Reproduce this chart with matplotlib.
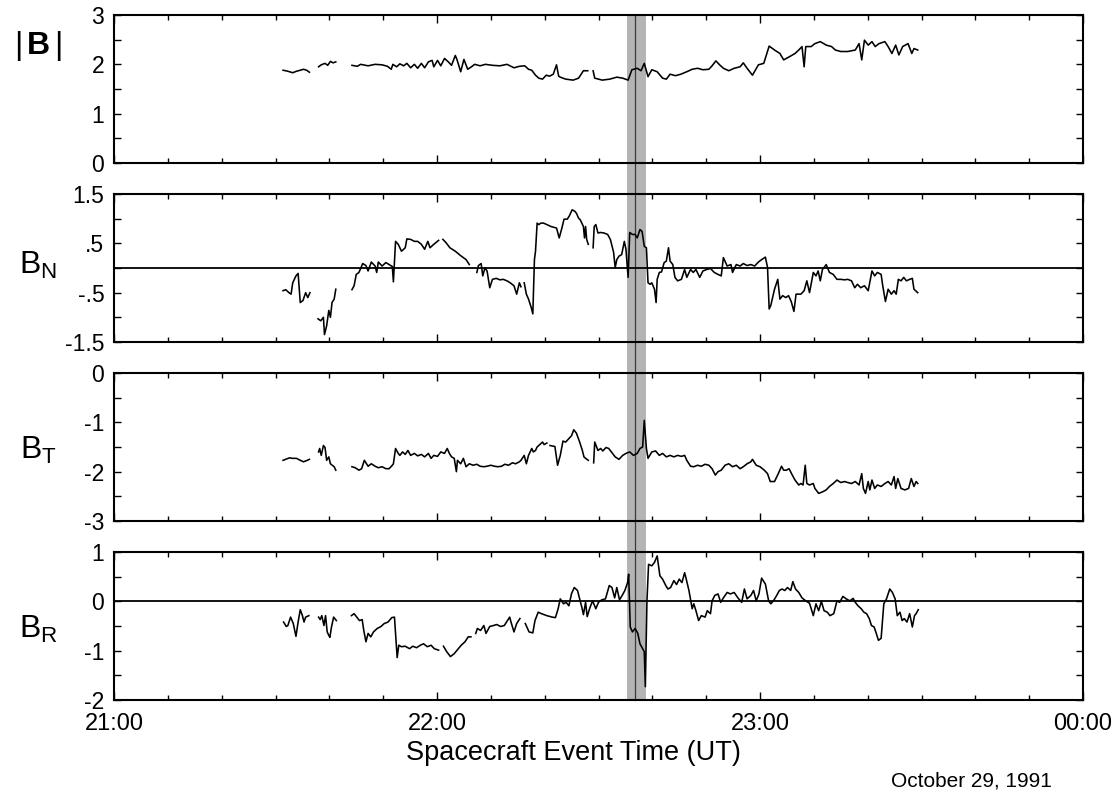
import numpy as np
import matplotlib
matplotlib.use("Agg")
import matplotlib.pyplot as plt
from matplotlib.ticker import MultipleLocator

plt.rcParams['font.family'] = ['Liberation Sans', 'DejaVu Sans']
plt.rcParams['mathtext.fontset'] = 'custom'
plt.rcParams['mathtext.rm'] = 'Liberation Sans'
plt.rcParams['mathtext.bf'] = 'Liberation Sans:bold'
plt.rcParams['mathtext.it'] = 'Liberation Sans:italic'

nan = np.nan

# time in minutes after 21:00 UT, field value; nan rows break the trace at data gaps
B_MAG = [
    (31.4, 1.88), (31.9, 1.87), (32.6, 1.85), (33.2, 1.83), (33.9, 1.86), (34.6, 1.88),
    (35.2, 1.90), (35.8, 1.88), (36.3, 1.84), (37.0, nan),
    (38.0, 1.95), (38.5, 1.99), (39.2, 2.02), (39.7, 1.98), (40.2, 2.06), (40.7, 2.03),
    (41.2, 2.05), (42.5, nan),
    (44.2, 1.98), (45.2, 1.96), (45.8, 2.00), (47.2, 1.97), (48.5, 2.00), (49.8, 1.99),
    (50.8, 1.96), (51.5, 1.90), (51.8, 2.00), (52.5, 1.95), (53.1, 2.01), (53.8, 1.97),
    (54.4, 2.02), (55.1, 1.93), (55.8, 2.00), (56.4, 1.92), (57.1, 2.02), (57.7, 1.93),
    (58.4, 2.05), (59.1, 2.08), (59.4, 1.95), (60.1, 2.08), (60.7, 1.97), (61.4, 2.12),
    (62.1, 2.05), (62.7, 1.98), (63.4, 2.18), (63.7, 2.10), (64.4, 1.85), (65.0, 2.10),
    (65.7, 1.90), (66.4, 1.95), (67.0, 2.00), (68.0, 1.97), (69.0, 2.00), (70.3, 1.98),
    (71.7, 1.97), (73.0, 2.00), (74.3, 1.93), (75.3, 1.96), (76.3, 1.97), (77.0, 1.90),
    (77.6, 1.88), (78.3, 1.78), (78.9, 1.72), (79.6, 1.70), (80.3, 1.78), (80.9, 1.76),
    (81.6, 1.80), (82.2, 1.99), (82.6, 1.76), (82.9, 1.74), (83.9, 1.70), (85.3, 1.68),
    (86.3, 1.72), (87.2, 1.87), (88.0, 1.87), (88.5, nan),
    (89.0, 1.87), (89.3, 1.72), (90.7, 1.68), (92.1, 1.70), (93.4, 1.74), (94.5, 1.72),
    (95.5, 1.68), (96.2, 1.89), (97.2, 1.92), (97.9, 1.87), (98.5, 2.02), (99.2, 1.75),
    (99.9, 1.89), (100.9, 1.85), (101.9, 1.72), (102.6, 1.70), (103.3, 1.80), (104.3, 1.77),
    (105.3, 1.80), (106.4, 1.85), (107.4, 1.90), (108.4, 1.92), (109.4, 1.89), (110.5, 1.90),
    (111.1, 1.97), (111.8, 2.07), (112.5, 1.99), (113.2, 1.92), (114.2, 1.87), (115.2, 1.92),
    (116.3, 1.95), (116.9, 2.03), (117.6, 1.92), (118.6, 1.78), (119.7, 1.99), (120.7, 2.02),
    (121.7, 2.37), (122.7, 2.29), (123.7, 2.22), (124.4, 2.09), (125.4, 2.15), (126.5, 2.22),
    (127.2, 2.29), (127.8, 2.36), (128.2, 1.95), (128.5, 2.36), (129.5, 2.36), (130.2, 2.42),
    (131.2, 2.46), (132.3, 2.39), (133.3, 2.36), (134.0, 2.29), (135.0, 2.26), (136.3, 2.26),
    (137.7, 2.29), (138.4, 2.42), (138.9, 2.09), (139.4, 2.49), (140.1, 2.39), (140.8, 2.46),
    (141.4, 2.36), (142.1, 2.42), (143.2, 2.46), (143.8, 2.36), (144.5, 2.22), (145.2, 2.39),
    (145.8, 2.19), (146.5, 2.36), (147.5, 2.42), (148.2, 2.22), (148.6, 2.32), (149.3, 2.29),
]

B_N = [
    (31.4, -0.46), (31.9, -0.44), (32.5, -0.50), (32.9, -0.53), (33.2, -0.30), (33.8, -0.16),
    (34.2, -0.11), (34.6, -0.70), (35.1, -0.66), (35.6, -0.50), (36.0, -0.60), (36.4, -0.50),
    (37.0, nan),
    (37.9, -1.03), (38.4, -1.07), (38.9, -1.00), (39.1, -1.35), (39.5, -1.17), (39.9, -0.86),
    (40.2, -1.00), (40.5, -0.70), (40.9, -0.63), (41.2, -0.43), (42.5, nan),
    (44.2, -0.44), (44.6, -0.36), (45.0, -0.13), (45.5, -0.09), (46.2, 0.09), (46.8, 0.05),
    (47.2, -0.06), (47.8, 0.12), (48.5, 0.04), (48.8, -0.09), (49.1, 0.12), (49.8, 0.04),
    (50.5, 0.11), (51.1, 0.07), (51.7, 0.03), (51.9, -0.28), (52.3, 0.54), (52.8, 0.48),
    (53.4, 0.34), (54.1, 0.41), (54.4, 0.59), (55.1, 0.58), (55.8, 0.54), (56.4, 0.54),
    (57.1, 0.48), (57.7, 0.38), (58.3, 0.54), (58.7, 0.41), (59.4, 0.48), (60.3, 0.56),
    (60.6, nan),
    (61.1, 0.58), (61.7, 0.51), (62.4, 0.41), (63.4, 0.34), (64.4, 0.25), (65.4, 0.17),
    (66.0, 0.07), (66.5, nan),
    (67.4, -0.09), (67.7, 0.05), (68.2, 0.09), (68.5, -0.16), (68.9, 0.00), (69.3, -0.06),
    (69.8, -0.40), (70.3, -0.23), (71.0, -0.21), (71.7, -0.24), (72.3, -0.23), (73.0, -0.26),
    (73.6, -0.30), (74.3, -0.36), (74.8, -0.53), (75.3, -0.30), (75.6, -0.38), (75.9, nan),
    (76.2, -0.30), (76.6, -0.53), (77.0, -0.63), (77.5, -0.80), (77.8, -0.93), (78.1, 0.17),
    (78.3, 0.34), (78.6, 0.91), (78.9, 0.88), (79.3, 0.91), (79.8, 0.91), (81.2, 0.84),
    (82.2, 0.81), (82.7, 0.61), (83.2, 0.81), (83.6, 0.99), (84.2, 0.99), (84.6, 1.06),
    (85.1, 1.18), (85.6, 1.15), (85.9, 1.11), (86.3, 1.01), (86.6, 0.98), (87.2, 0.84),
    (87.4, 0.61), (87.6, 0.84), (87.8, 0.58), (88.1, 0.48), (88.5, nan),
    (89.0, 0.41), (89.2, 0.84), (89.5, 0.88), (89.9, 0.71), (90.4, 0.72), (91.0, 0.71),
    (91.7, 0.68), (92.2, 0.58), (92.8, 0.32), (93.1, 0.01), (93.4, 0.17), (93.8, 0.24),
    (94.3, 0.27), (94.8, 0.54), (95.1, 0.38), (95.5, -0.19), (95.8, 0.72), (96.3, 0.68),
    (96.8, 0.68), (97.2, 0.61), (97.7, 0.78), (98.1, 0.74), (98.5, 0.44), (98.9, 0.41),
    (99.2, -0.30), (99.6, -0.33), (99.9, -0.30), (100.4, -0.43), (100.7, -0.70), (100.9, -0.23),
    (101.3, -0.09), (101.7, -0.08), (102.2, 0.11), (102.6, 0.14), (103.0, 0.41), (103.3, 0.14),
    (103.8, 0.07), (104.2, -0.19), (104.7, -0.26), (105.4, -0.23), (106.0, -0.03), (106.4, -0.19),
    (107.1, -0.03), (107.6, -0.09), (108.1, -0.03), (108.8, -0.19), (109.4, -0.06), (110.1, -0.03),
    (110.8, -0.01), (111.5, -0.09), (112.2, -0.13), (112.8, -0.16), (113.2, 0.21), (113.9, 0.04),
    (114.6, 0.07), (114.9, -0.09), (115.6, 0.07), (116.3, 0.04), (116.9, 0.09), (117.6, 0.05),
    (118.3, 0.07), (119.0, 0.04), (119.7, 0.12), (120.3, 0.17), (121.0, 0.22), (121.4, 0.01),
    (121.7, -0.83), (122.0, -0.76), (122.7, -0.43), (123.3, -0.23), (123.7, -0.63), (124.2, -0.56),
    (124.8, -0.60), (125.3, -0.56), (125.8, -0.68), (126.3, -0.88), (126.7, -0.53), (127.2, -0.53),
    (127.6, -0.53), (128.2, -0.46), (128.7, -0.26), (129.2, -0.50), (129.9, -0.09), (130.4, -0.16),
    (130.8, -0.06), (131.2, -0.26), (131.6, -0.03), (132.3, 0.07), (132.9, -0.09), (133.6, -0.13),
    (134.3, -0.23), (135.0, -0.23), (135.7, -0.24), (136.3, -0.23), (137.0, -0.26), (137.6, -0.40),
    (138.1, -0.33), (138.7, -0.40), (139.4, -0.36), (140.1, -0.46), (140.8, -0.06), (141.3, -0.16),
    (141.8, -0.09), (142.5, -0.13), (142.8, -0.36), (143.3, -0.68), (143.8, -0.43), (144.4, -0.53),
    (144.9, -0.46), (145.3, -0.53), (145.7, -0.23), (146.2, -0.26), (146.7, -0.19), (147.2, -0.26),
    (147.8, -0.23), (148.3, -0.21), (148.6, -0.43), (149.3, -0.50),
]

B_T = [
    (31.4, -1.77), (31.9, -1.75), (32.6, -1.72), (33.2, -1.73), (33.9, -1.73), (34.6, -1.77),
    (35.2, -1.80), (35.9, -1.77), (36.3, -1.75), (37.0, nan),
    (38.0, -1.60), (38.2, -1.53), (38.5, -1.67), (38.9, -1.47), (39.2, -1.51), (39.5, -1.77),
    (39.9, -1.70), (40.2, -1.84), (40.9, -1.90), (41.2, -1.97), (42.5, nan),
    (44.2, -1.90), (44.8, -1.92), (45.5, -1.97), (46.0, -1.94), (46.5, -1.77), (47.2, -1.89),
    (47.8, -1.84), (48.5, -1.89), (49.1, -1.92), (49.8, -1.90), (50.5, -1.94), (51.1, -1.94),
    (51.7, -1.87), (51.9, -1.84), (52.3, -1.53), (52.8, -1.63), (53.1, -1.67), (53.6, -1.60),
    (54.1, -1.65), (54.6, -1.57), (55.1, -1.67), (55.8, -1.63), (56.4, -1.68), (57.1, -1.65),
    (57.7, -1.70), (58.4, -1.63), (58.9, -1.73), (59.4, -1.67), (60.1, -1.69), (60.7, -1.60),
    (61.4, -1.63), (61.9, -1.53), (62.3, -1.63), (62.7, -1.70), (63.2, -1.73), (63.6, -2.00),
    (63.8, -1.77), (64.4, -1.84), (64.9, -1.73), (65.4, -1.90), (66.0, -1.84), (66.7, -1.87),
    (67.4, -1.85), (68.0, -1.89), (68.7, -1.90), (69.3, -1.89), (70.0, -1.87), (70.7, -1.89),
    (71.3, -1.90), (72.0, -1.89), (72.6, -1.85), (73.3, -1.87), (74.0, -1.82), (74.6, -1.84),
    (75.3, -1.80), (75.6, -1.77), (76.2, -1.67), (76.6, -1.84), (77.0, -1.67), (77.6, -1.53),
    (77.9, -1.60), (78.3, -1.57), (78.6, -1.50), (78.9, -1.47), (79.3, -1.43), (79.6, -1.40),
    (79.9, -1.45), (80.4, -1.42), (80.7, nan),
    (81.0, -1.47), (81.9, -1.49), (82.4, -1.87), (82.9, -1.67), (83.4, -1.38), (83.9, -1.40),
    (84.5, -1.33), (85.0, -1.27), (85.4, -1.15), (85.9, -1.22), (86.5, -1.40), (87.0, -1.57),
    (87.3, -1.70), (87.6, -1.73), (88.1, -1.77), (88.5, nan),
    (89.1, -1.82), (89.3, -1.40), (89.9, -1.57), (90.4, -1.53), (90.8, -1.58), (91.4, -1.51),
    (91.9, -1.53), (92.4, -1.60), (93.1, -1.70), (93.8, -1.75), (94.5, -1.67), (95.1, -1.63),
    (95.8, -1.60), (96.5, -1.67), (97.2, -1.63), (97.7, -1.53), (98.2, -1.50), (98.5, -0.96),
    (98.9, -1.53), (99.2, -1.73), (99.9, -1.60), (100.6, -1.58), (101.3, -1.67), (101.9, -1.63),
    (102.6, -1.70), (103.3, -1.67), (104.0, -1.70), (104.7, -1.67), (105.4, -1.69), (106.0, -1.67),
    (106.4, -1.77), (107.1, -1.89), (107.7, -1.90), (108.4, -1.87), (109.1, -1.89), (109.8, -1.85),
    (110.5, -1.87), (111.1, -1.94), (111.7, -2.07), (112.2, -2.00), (112.8, -1.97), (113.5, -1.87),
    (114.2, -1.84), (114.9, -1.90), (115.6, -1.87), (116.3, -1.94), (116.9, -1.90), (117.6, -1.84),
    (118.3, -1.80), (118.6, -1.75), (119.3, -1.87), (120.0, -1.90), (120.8, -1.97), (121.4, -2.04),
    (121.9, -2.20), (122.7, -2.20), (123.4, -2.04), (124.0, -1.89), (124.4, -1.97), (124.9, -1.97),
    (125.4, -1.94), (126.0, -2.07), (126.5, -2.17), (127.2, -2.27), (127.6, -2.24), (128.0, -2.27),
    (128.4, -1.87), (128.7, -2.24), (129.2, -2.27), (129.9, -2.24), (130.2, -2.34), (130.9, -2.44),
    (131.6, -2.41), (132.3, -2.37), (132.9, -2.30), (133.6, -2.24), (134.3, -2.17), (135.0, -2.22),
    (135.7, -2.20), (136.3, -2.22), (137.0, -2.24), (137.7, -2.20), (138.4, -2.27), (138.9, -2.04),
    (139.2, -2.34), (139.6, -2.44), (140.1, -2.20), (140.4, -2.37), (140.8, -2.17), (141.3, -2.34),
    (141.8, -2.27), (142.5, -2.30), (143.2, -2.24), (143.8, -2.20), (144.4, -2.27), (144.9, -2.10),
    (145.2, -2.34), (145.6, -2.14), (146.2, -2.34), (146.9, -2.37), (147.6, -2.34), (148.1, -2.14),
    (148.6, -2.30), (149.0, -2.20), (149.3, -2.24),
]

B_R = [
    (31.5, -0.42), (32.0, -0.51), (32.3, -0.49), (32.8, -0.32), (33.3, -0.45), (33.8, -0.71),
    (34.2, -0.42), (34.6, -0.17), (35.0, -0.29), (35.3, -0.42), (35.6, -0.32), (36.2, -0.29),
    (37.0, nan),
    (38.0, -0.32), (38.3, -0.37), (38.6, -0.29), (39.0, -0.49), (39.3, -0.29), (39.6, -0.62),
    (39.9, -0.69), (40.1, -0.73), (40.4, -0.52), (40.8, -0.32), (41.3, -0.39), (42.5, nan),
    (44.1, -0.29), (44.6, -0.25), (45.1, -0.32), (45.6, -0.39), (46.1, -0.37), (46.4, -0.59),
    (46.8, -0.82), (47.2, -0.65), (47.7, -0.72), (48.2, -0.62), (48.9, -0.55), (49.6, -0.51),
    (50.2, -0.45), (50.9, -0.42), (51.6, -0.33), (52.1, -0.32), (52.6, -1.14), (52.9, -0.89),
    (53.4, -0.92), (54.1, -0.91), (54.9, -0.96), (55.5, -0.91), (56.2, -0.94), (56.9, -0.89),
    (57.5, -0.86), (58.2, -0.92), (58.9, -0.89), (59.5, -0.96), (60.3, -0.99), (60.8, nan),
    (61.2, -0.91), (61.8, -1.02), (62.5, -1.12), (63.2, -1.06), (63.8, -0.98), (64.5, -0.89),
    (65.2, -0.82), (65.8, -0.72), (66.3, -0.72), (66.8, nan),
    (67.2, -0.65), (67.5, -0.55), (68.1, -0.59), (68.7, -0.49), (69.1, -0.65), (69.8, -0.51),
    (70.5, -0.49), (71.1, -0.47), (71.8, -0.51), (72.5, -0.49), (73.1, -0.39), (73.5, -0.32),
    (73.8, -0.44), (74.3, -0.62), (74.8, -0.45), (75.4, -0.35), (75.9, nan),
    (76.4, -0.45), (77.1, -0.62), (77.8, -0.64), (78.2, -0.39), (78.8, -0.22), (79.4, -0.25),
    (80.4, -0.29), (81.4, -0.32), (82.0, -0.33), (82.5, -0.15), (82.9, 0.05), (83.5, -0.05),
    (84.0, -0.02), (84.5, -0.09), (85.0, 0.16), (85.5, 0.28), (86.1, 0.22), (86.6, 0.01),
    (86.9, -0.12), (87.2, -0.27), (87.6, -0.02), (87.9, -0.31), (88.4, -0.13), (88.9, 0.01),
    (89.5, -0.15), (90.0, -0.02), (90.6, 0.03), (91.3, 0.05), (92.0, 0.32), (92.5, 0.28),
    (93.0, 0.07), (93.4, 0.28), (93.9, 0.03), (94.4, 0.12), (94.9, 0.22), (95.4, 0.38),
    (95.6, 0.55), (95.9, -0.52), (96.3, -0.62), (96.8, -0.55), (97.3, -0.65), (97.7, -0.86),
    (98.2, -0.96), (98.5, -1.02), (98.7, -1.73), (99.0, 0.01), (99.3, 0.75), (99.9, 0.72),
    (100.4, 0.79), (100.9, 0.92), (101.4, 0.52), (101.9, 0.45), (102.5, 0.32), (102.9, 0.25),
    (103.4, 0.28), (104.0, 0.42), (104.5, 0.34), (105.0, 0.45), (105.5, 0.38), (106.0, 0.58),
    (106.3, 0.45), (106.8, 0.22), (107.4, -0.15), (107.7, -0.05), (108.1, -0.19), (108.6, -0.39),
    (109.1, -0.29), (109.8, -0.32), (110.2, -0.19), (110.8, -0.25), (111.1, 0.01), (111.6, 0.12),
    (112.2, 0.15), (112.7, -0.02), (113.2, 0.07), (113.9, 0.18), (114.5, 0.15), (115.2, 0.18),
    (115.9, 0.07), (116.6, -0.02), (117.1, 0.25), (117.6, 0.05), (118.3, 0.12), (118.8, 0.22),
    (119.3, 0.01), (119.8, 0.15), (120.3, 0.47), (121.0, 0.35), (121.6, 0.01), (122.0, -0.05),
    (122.5, 0.01), (123.1, 0.12), (123.6, 0.22), (124.1, 0.25), (124.6, 0.22), (125.1, 0.28),
    (125.7, 0.22), (126.1, 0.40), (126.6, 0.25), (127.2, 0.18), (127.8, 0.07), (128.5, 0.01),
    (129.2, -0.04), (129.9, -0.29), (130.4, -0.05), (130.9, -0.19), (131.4, 0.00), (131.9, -0.19),
    (132.5, -0.22), (133.0, -0.29), (133.7, -0.25), (134.3, 0.01), (134.8, -0.02), (135.4, 0.10),
    (136.0, 0.05), (136.7, 0.01), (137.3, 0.06), (137.7, -0.02), (138.2, -0.09), (138.8, -0.15),
    (139.3, -0.22), (139.8, -0.25), (140.3, -0.35), (140.7, -0.49), (141.2, -0.52), (141.6, -0.65),
    (142.0, -0.79), (142.5, -0.75), (143.0, -0.05), (143.5, 0.05), (144.1, 0.25), (144.6, 0.18),
    (145.1, 0.05), (145.5, -0.29), (146.0, -0.22), (146.4, -0.39), (146.8, -0.35), (147.3, -0.42),
    (147.8, -0.25), (148.3, -0.52), (148.7, -0.29), (149.0, -0.25), (149.4, -0.17),
]

# discontinuity interval (minutes after 21:00) and the marked instant inside it
BAND = (95.3, 98.8)
EVENT = 96.8

HOUR_TICKS = [0, 60, 120, 180]
HOUR_LABELS = ['21:00', '22:00', '23:00', '00:00']

panels = [
    dict(data=B_MAG, ylim=(0, 3), label=r'$|\,\mathbf{B}\,|$', zero=False,
         yticks=[0, 0.5, 1, 1.5, 2, 2.5, 3], ylabels=['0', '', '1', '', '2', '', '3']),
    dict(data=B_N, ylim=(-1.5, 1.5), label=r'$\mathrm{B}_\mathrm{N}$', zero=True,
         yticks=[-1.5, -1, -0.5, 0, 0.5, 1, 1.5], ylabels=['-1.5', '', '-.5', '', '.5', '', '1.5']),
    dict(data=B_T, ylim=(-3, 0), label=r'$\mathrm{B}_\mathrm{T}$', zero=False,
         yticks=[-3, -2.5, -2, -1.5, -1, -0.5, 0], ylabels=['-3', '', '-2', '', '-1', '', '0']),
    dict(data=B_R, ylim=(-2, 1), label=r'$\mathrm{B}_\mathrm{R}$', zero=True,
         yticks=[-2, -1.5, -1, -0.5, 0, 0.5, 1], ylabels=['-2', '', '-1', '', '0', '', '1']),
]

W, H = 1118, 794
fig = plt.figure(figsize=(W / 100, H / 100), dpi=100)

left, right = 114, 1083
tops = [15, 194, 373, 552]
ph = 148
gap = (tops[1] - tops[0] - ph) / ph
label_y = [46, 274, 459, 638]

for i, p in enumerate(panels):
    ax = fig.add_axes([left / W, 1 - (tops[i] + ph) / H, (right - left) / W, ph / H])
    ax.set_facecolor('none')
    t, v = np.array(p['data']).T
    ax.set_xlim(0, 180)
    ax.set_ylim(*p['ylim'])

    ymin = 0 if i == len(panels) - 1 else -gap
    ax.axvspan(*BAND, ymin=ymin, ymax=1, color='#b4b4b4', lw=0, clip_on=False, zorder=0.5)
    ax.axvline(EVENT, ymin=ymin, ymax=1, color='#3a3a3a', lw=0.9, clip_on=False, zorder=0.6)

    if p['zero']:
        ax.axhline(0, color='black', lw=1.3, zorder=1.5)
    ax.plot(t, v, color='black', lw=1.15, zorder=2)

    for s in ax.spines.values():
        s.set_linewidth(1.5)
        s.set_zorder(3)

    ax.xaxis.set_major_locator(MultipleLocator(60))
    ax.xaxis.set_minor_locator(MultipleLocator(10))
    ax.tick_params(which='both', direction='in', top=True, right=True, width=1.0)
    ax.tick_params(axis='x', which='major', length=6)
    ax.tick_params(axis='x', which='minor', length=3.5)
    ax.tick_params(axis='y', which='major', length=5, labelsize=16.5, pad=7)
    ax.set_yticks(p['yticks'], p['ylabels'])

    if i == len(panels) - 1:
        ax.set_xticks(HOUR_TICKS, HOUR_LABELS)
        ax.tick_params(axis='x', labelsize=17, pad=9)
    else:
        ax.tick_params(axis='x', labelbottom=False)

    fig.text(38 / W, 1 - label_y[i] / H, p['label'], fontsize=23,
             ha='center', va='baseline' if i else 'center')

fig.text(573 / W, 1 - 753 / H, 'Spacecraft Event Time (UT)', fontsize=19.5,
         ha='center', va='center')
fig.text(1052 / W, 1 - 781 / H, 'October 29, 1991', fontsize=15,
         ha='right', va='center')

fig.savefig('out.png', dpi=100)
